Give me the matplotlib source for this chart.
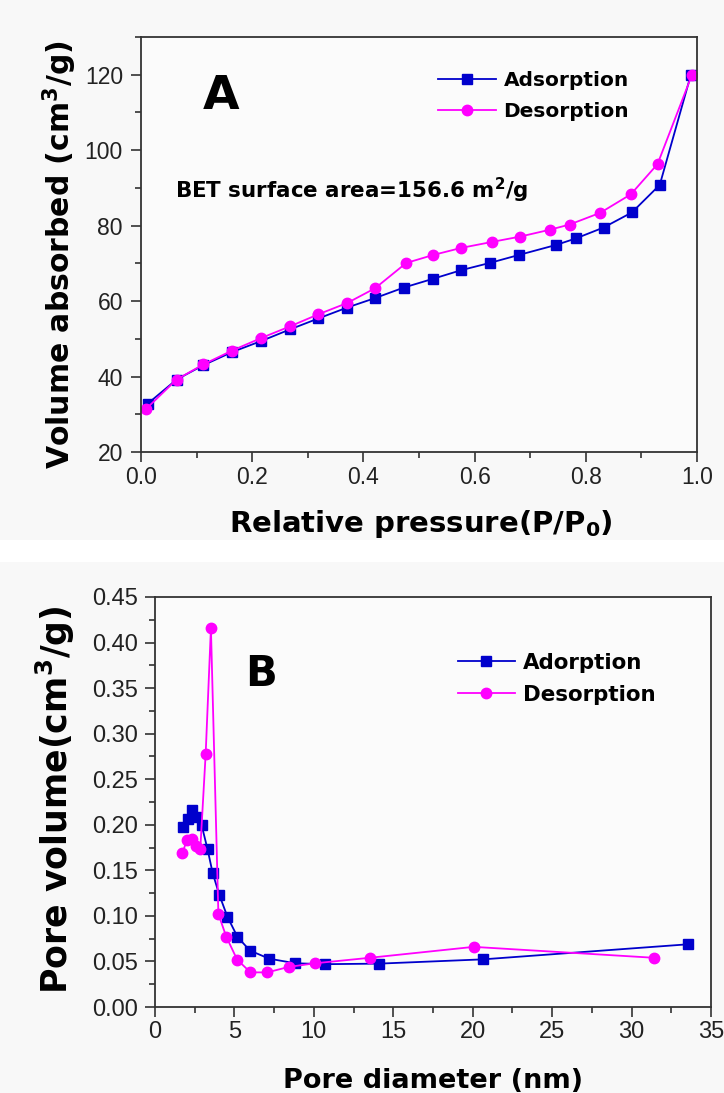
import numpy as np
import matplotlib
matplotlib.use('Agg')
import matplotlib.pyplot as plt
from matplotlib.ticker import MultipleLocator
from matplotlib.patches import Rectangle

plt.rcParams['mathtext.default'] = 'bf'

# ---- data panel A (isotherm) ----
p_ads = [0.012, 0.064, 0.112, 0.164, 0.216, 0.268, 0.319, 0.371, 0.421, 0.473,
         0.525, 0.576, 0.627, 0.679, 0.747, 0.782, 0.832, 0.883, 0.933, 0.989]
v_ads = [32.8, 39.2, 43.0, 46.5, 49.4, 52.5, 55.4, 58.3, 60.8, 63.6,
         65.9, 68.2, 70.1, 72.2, 74.9, 76.6, 79.5, 83.5, 90.8, 120.0]
p_des = [0.009, 0.064, 0.112, 0.164, 0.216, 0.268, 0.319, 0.371, 0.421, 0.477,
         0.525, 0.576, 0.632, 0.682, 0.735, 0.771, 0.826, 0.881, 0.929, 0.991]
v_des = [31.4, 39.2, 43.2, 46.9, 50.2, 53.3, 56.5, 59.5, 63.4, 70.1,
         72.2, 74.1, 75.7, 77.1, 78.9, 80.3, 83.4, 88.3, 96.3, 120.0]

# ---- data panel B (pore size distribution) ----
d_ads = [1.79, 2.05, 2.34, 2.55, 2.93, 3.31, 3.63, 4.05, 4.56, 5.19, 5.97, 7.19,
         8.84, 10.70, 14.1, 20.65, 33.53]
pv_ads = [0.1975, 0.206, 0.216, 0.208, 0.200, 0.173, 0.147, 0.123, 0.099, 0.077,
          0.062, 0.053, 0.048, 0.047, 0.0476, 0.0523, 0.0688]
d_des = [1.73, 2.00, 2.30, 2.55, 2.85, 3.19, 3.52, 3.99, 4.49, 5.17, 6.01, 7.07,
         8.42, 10.08, 13.51, 20.06, 31.43]
pv_des = [0.169, 0.183, 0.184, 0.177, 0.173, 0.278, 0.416, 0.102, 0.077, 0.052,
          0.038, 0.038, 0.044, 0.048, 0.054, 0.066, 0.054]

W, H = 724, 1093
fig = plt.figure(figsize=(W/100, H/100), dpi=100, facecolor='#f8f8f8')
fig.patches.append(Rectangle((0, (H-562)/H), 1, 22/H, transform=fig.transFigure,
                             facecolor='white', edgecolor='none', zorder=0))

blue = '#0000cc'
mag = '#ff00ff'

def style(ax, fs, ypad):
    for s in ['top', 'right', 'left', 'bottom']:
        ax.spines[s].set_color('#333333')
        ax.spines[s].set_linewidth(1.3)
    ax.set_facecolor('#fbfbfb')
    ax.tick_params(which='both', direction='out', top=False, right=False, color='#333333', width=1.2)
    ax.tick_params(which='major', length=7)
    ax.tick_params(which='minor', length=4)
    ax.tick_params(axis='y', which='major', pad=ypad)
    ax.tick_params(axis='x', which='major', pad=3)
    for lab in ax.get_xticklabels() + ax.get_yticklabels():
        lab.set_fontfamily('Liberation Sans')
        lab.set_fontsize(fs)
        lab.set_color('#222222')

# panel A
axA = fig.add_axes([141/W, (H-452)/H, 556/W, 415/H])
axA.plot(p_ads, v_ads, '-s', color=blue, lw=1.3, ms=7, label='Adsorption')
axA.plot(p_des, v_des, '-o', color=mag, lw=1.3, ms=7.5, label='Desorption')
axA.set_xlim(0, 1.0)
axA.set_ylim(20, 130)
axA.xaxis.set_major_locator(MultipleLocator(0.2))
axA.xaxis.set_minor_locator(MultipleLocator(0.1))
axA.yaxis.set_major_locator(MultipleLocator(20))
axA.yaxis.set_minor_locator(MultipleLocator(10))
axA.set_yticks([20, 40, 60, 80, 100, 120])
axA.set_xticks([0.0, 0.2, 0.4, 0.6, 0.8, 1.0])
axA.set_xticklabels(['0.0', '0.2', '0.4', '0.6', '0.8', '1.0'])
style(axA, 16.5, 6)
axA.legend(loc='upper left', bbox_to_anchor=(0.516, 0.943), frameon=False, borderpad=0,
           handlelength=2.9, handletextpad=0.35, labelspacing=0.6,
           prop={'family': 'DejaVu Sans', 'weight': 'bold', 'size': 14.5})
axA.text(0.1115, 0.8265, 'A', transform=axA.transAxes, fontsize=34, fontweight='bold',
         va='baseline', ha='left', family='DejaVu Sans')
axA.text(0.061, 0.612, 'BET surface area=156.6 m$^2$/g', transform=axA.transAxes,
         fontsize=15.4, fontweight='bold', va='baseline', ha='left', family='DejaVu Sans')
fig.text(421/W, (H-532)/H, 'Relative pressure(P/P$_0$)', ha='center', va='baseline',
         fontsize=21, fontweight='bold', family='DejaVu Sans')
fig.text(70/W, (H-255)/H, 'Volume absorbed (cm$^3$/g)', ha='center', va='baseline',
         rotation=90, rotation_mode='anchor', fontsize=21.5, fontweight='bold', family='DejaVu Sans')

# panel B
axB = fig.add_axes([155/W, (H-1007)/H, 556/W, 410/H])
axB.plot(d_ads, pv_ads, '-s', color=blue, lw=1.3, ms=7, label='Adorption')
axB.plot(d_des, pv_des, '-o', color=mag, lw=1.3, ms=7.5, label='Desorption')
axB.set_xlim(0, 35)
axB.set_ylim(0, 0.45)
axB.xaxis.set_major_locator(MultipleLocator(5))
axB.xaxis.set_minor_locator(MultipleLocator(2.5))
axB.yaxis.set_major_locator(MultipleLocator(0.05))
axB.yaxis.set_minor_locator(MultipleLocator(0.025))
axB.set_yticks(np.arange(0, 0.46, 0.05))
axB.set_yticklabels(['%.2f' % v for v in np.arange(0, 0.46, 0.05)])
style(axB, 17, 5.5)
axB.legend(loc='upper left', bbox_to_anchor=(0.525, 0.890), frameon=False, borderpad=0,
           handlelength=2.7, handletextpad=0.35, labelspacing=0.55,
           prop={'family': 'DejaVu Sans', 'weight': 'bold', 'size': 15.4})
axB.text(0.162, 0.783, 'B', transform=axB.transAxes, fontsize=30, fontweight='bold',
         va='baseline', ha='left', family='DejaVu Sans')
fig.text(433/W, (H-1088)/H, 'Pore diameter (nm)', ha='center', va='baseline',
         fontsize=19.5, fontweight='bold', family='DejaVu Sans')
fig.text(68/W, (H-800)/H, 'Pore volume(cm$^3$/g)', ha='center', va='baseline',
         rotation=90, rotation_mode='anchor', fontsize=25, fontweight='bold', family='DejaVu Sans')

fig.savefig('out.png', dpi=100, facecolor=fig.get_facecolor())
